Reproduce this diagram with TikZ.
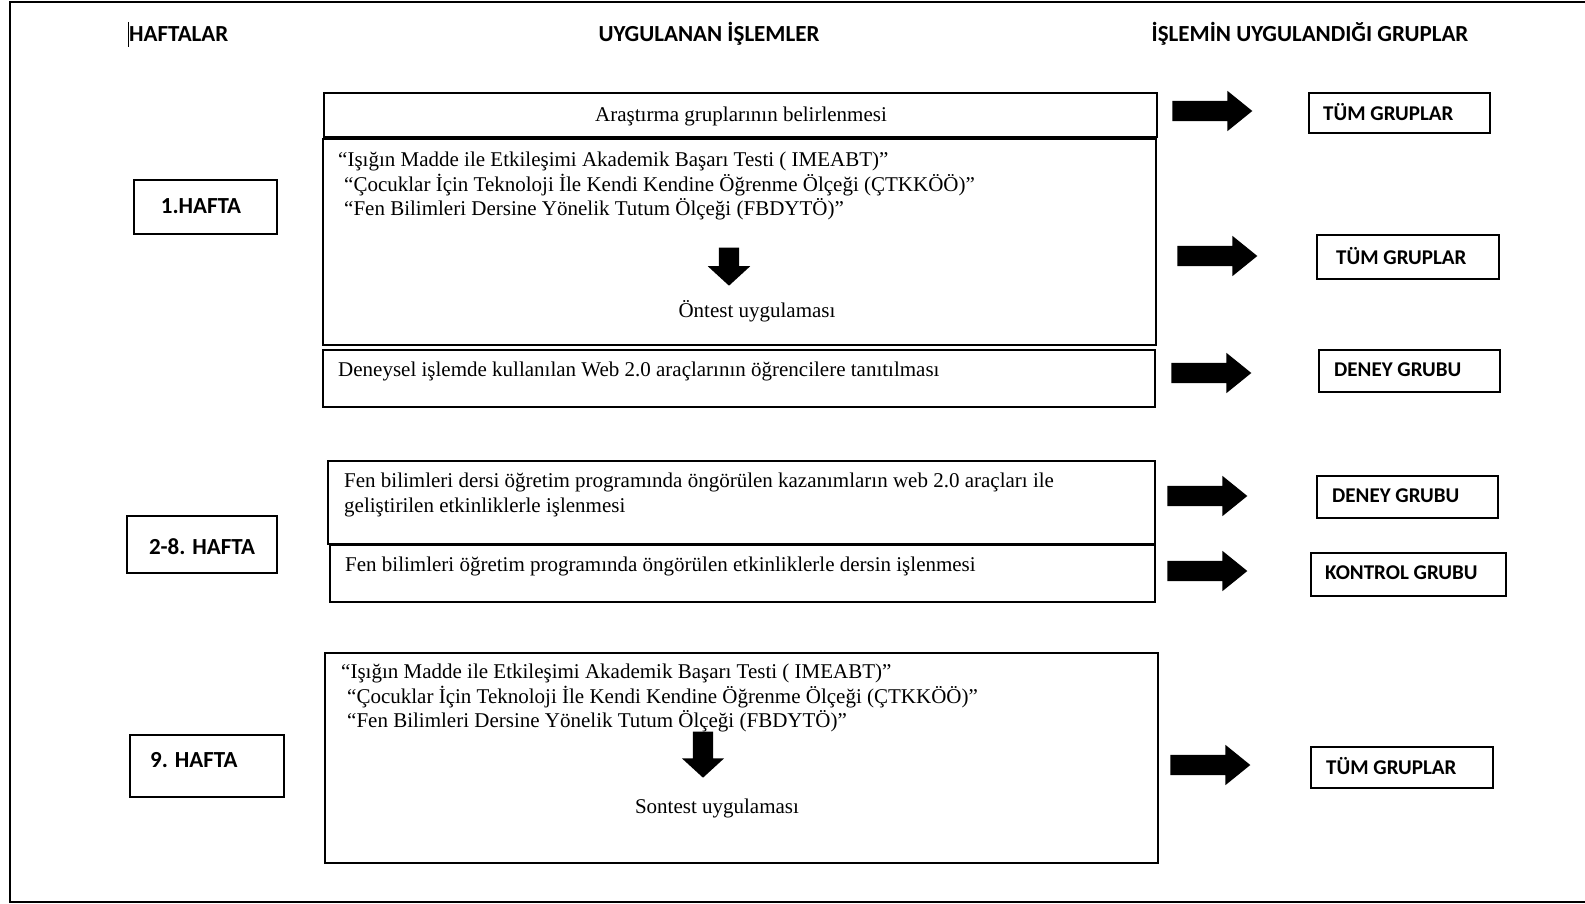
\documentclass[tikz,border=0pt]{standalone}
\usepackage{fontspec}
\setmainfont{Liberation Serif}
\newfontfamily\hdfont{Carlito}
\usetikzlibrary{shapes.arrows}
\tikzset{
  box/.style={draw, line width=1.6pt, inner sep=0pt, anchor=north west},
  ser/.style={font=\fontsize{21}{24}\selectfont, inner sep=0pt, yshift=-2pt},
  hd/.style={font=\hdfont\bfseries\fontsize{23}{26}\selectfont, inner sep=0pt},
  grp/.style={font=\hdfont\bfseries\fontsize{21}{24}\selectfont, inner sep=0pt, anchor=west},
  rarrow/.style={single arrow, fill=black, draw=none, inner xsep=0pt, inner ysep=10pt,
    minimum height=80pt, minimum width=40pt, single arrow head extend=10pt,
    single arrow tip angle=78, xshift=-6pt},
  darrow/.style={single arrow, fill=black, draw=none, inner xsep=0pt, inner ysep=10pt,
    minimum width=42pt, single arrow head extend=11pt,
    single arrow tip angle=95, rotate=-90}
}
\begin{document}
\begin{tikzpicture}[x=1pt,y=-1pt]
\useasboundingbox (0,0) rectangle (1585,904);
% outer frame (right side cut off)
\coordinate (ftr) at (1586,2);
\coordinate (ftl) at (10,2);
\coordinate (fbl) at (10,902);
\coordinate (fbr) at (1586,902);
\draw[line width=2.6pt] (ftr) -- (ftl) -- (fbl) -- (fbr);
% cursor mark
\coordinate (cur1) at (128,22);
\coordinate (cur2) at (128,47);
\draw[line width=0.8pt] (cur1) -- (cur2);

% headers
\node[hd, anchor=west] (h1) at (129,34) {HAFTALAR};
\node[hd] (h2) at (709,34) {UYGULANAN İŞLEMLER};
\node[hd] (h3) at (1310,34) {İŞLEMİN UYGULANDIĞI GRUPLAR};

% left week boxes
\node[box, minimum width=143pt, minimum height=54pt] (w1) at (133,179) {};
\node[hd] (w1t) at (201,206) {1.HAFTA};
\node[box, minimum width=150pt, minimum height=57pt] (w2) at (126,515) {};
\node[hd] (w2t) at (202,547) {2-8. HAFTA};
\node[box, minimum width=154pt, minimum height=62pt] (w3) at (129,734) {};
\node[hd, anchor=west] (w3t) at (150,760) {9. HAFTA};

% middle boxes
\node[box, minimum width=833pt, minimum height=44pt] (ma) at (323,92) {};
\node[ser] (mat) at (741,114) {Araştırma gruplarının belirlenmesi};

\node[box, minimum width=833pt, minimum height=206pt] (mb) at (322,138) {};
\node[ser, anchor=west] (mb1) at (338,159) {“Işığın Madde ile Etkileşimi Akademik Başarı Testi ( IMEABT)”};
\node[ser, anchor=west] (mb2) at (344,183) {“Çocuklar İçin Teknoloji İle Kendi Kendine Öğrenme Ölçeği (ÇTKKÖÖ)”};
\node[ser, anchor=west] (mb3) at (344,207) {“Fen Bilimleri Dersine Yönelik Tutum Ölçeği (FBDYTÖ)”};
\node[darrow, minimum height=38pt] (mbarr) at (729,262) {};
\node[ser] (mbt) at (757,309) {Öntest uygulaması};

\node[box, minimum width=832pt, minimum height=57pt] (mc) at (322,349) {};
\node[ser, anchor=west] (mct) at (338,369) {Deneysel işlemde kullanılan Web 2.0 araçlarının öğrencilere tanıtılması};

\node[box, minimum width=827pt, minimum height=83pt] (md) at (327,460) {};
\node[ser, anchor=west] (md1) at (344,480) {Fen bilimleri dersi öğretim programında öngörülen kazanımların web 2.0 araçları ile};
\node[ser, anchor=west] (md2) at (344,505) {geliştirilen etkinliklerle işlenmesi};

\node[box, minimum width=825pt, minimum height=57pt] (me) at (329,544) {};
\node[ser, anchor=west] (met) at (345,564) {Fen bilimleri öğretim programında öngörülen etkinliklerle dersin işlenmesi};

\node[box, minimum width=833pt, minimum height=210pt] (mf) at (324,652) {};
\node[ser, anchor=west] (mf1) at (341,671) {“Işığın Madde ile Etkileşimi Akademik Başarı Testi ( IMEABT)”};
\node[ser, anchor=west] (mf2) at (347,695) {“Çocuklar İçin Teknoloji İle Kendi Kendine Öğrenme Ölçeği (ÇTKKÖÖ)”};
\node[ser, anchor=west] (mf3) at (347,719) {“Fen Bilimleri Dersine Yönelik Tutum Ölçeği (FBDYTÖ)”};
\node[darrow, minimum height=46pt] (mfarr) at (703,750) {};
\node[ser] (mft) at (717,806) {Sontest uygulaması};

% right arrows
\node[rarrow] (a1) at (1212,111) {};
\node[rarrow] (a2) at (1217,256) {};
\node[rarrow] (a3) at (1211,373) {};
\node[rarrow] (a4) at (1207,496) {};
\node[rarrow] (a5) at (1207,571) {};
\node[rarrow] (a6) at (1210,765) {};

% right group boxes
\node[box, minimum width=181pt, minimum height=40pt] (g1) at (1308,92) {};
\node[grp] (g1t) at (1323,112) {TÜM GRUPLAR};
\node[box, minimum width=182pt, minimum height=44pt] (g2) at (1316,234) {};
\node[grp] (g2t) at (1336,256) {TÜM GRUPLAR};
\node[box, minimum width=181pt, minimum height=42pt] (g3) at (1318,349) {};
\node[grp] (g3t) at (1334,370) {DENEY GRUBU};
\node[box, minimum width=181pt, minimum height=42pt] (g4) at (1316,475) {};
\node[grp] (g4t) at (1332,496) {DENEY GRUBU};
\node[box, minimum width=195pt, minimum height=43pt] (g5) at (1310,552) {};
\node[grp] (g5t) at (1325,573) {KONTROL GRUBU};
\node[box, minimum width=182pt, minimum height=41pt] (g6) at (1310,746) {};
\node[grp] (g6t) at (1326,766) {TÜM GRUPLAR};
\end{tikzpicture}
\end{document}
